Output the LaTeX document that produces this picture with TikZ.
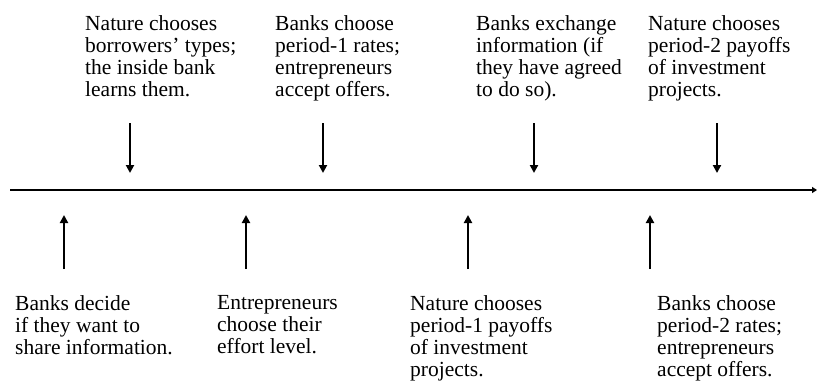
\documentclass[tikz,border=0pt]{standalone}
\usepackage{fontspec}
\setmainfont{Liberation Serif}
\usetikzlibrary{arrows.meta}
\begin{document}
\begin{tikzpicture}[x=1pt,y=-1pt,
  lbl/.style={anchor=north west, inner sep=0pt, align=left,
    font=\fontsize{21.5}{22}\selectfont},
  evt/.style={line width=2pt, -{Triangle[width=8pt,length=8pt]}},
  axis/.style={line width=2.2pt, -{Triangle[width=6pt,length=5pt]}}]
\useasboundingbox (0,0) rectangle (818,391);
% timeline
\coordinate (t0) at (10,190);
\coordinate (t1) at (817,190);
\draw[axis] (t0) -- (t1);
% top events
\node[lbl] (n1) at (85,15) {Nature chooses\\borrowers' types;\\the inside bank\\learns them.};
\node[lbl] (n2) at (275,15) {Banks choose\\period-1 rates;\\entrepreneurs\\accept offers.};
\node[lbl] (n3) at (476,15) {Banks exchange\\information (if\\they have agreed\\to do so).};
\node[lbl] (n4) at (648,15) {Nature chooses\\period-2 payoffs\\of investment\\projects.};
\foreach \i/\x in {1/130,2/323,3/534,4/717}{
  \coordinate (a\i) at (\x,123);
  \coordinate (b\i) at (\x,173);
  \draw[evt] (a\i) -- (b\i);
}
% bottom events
\node[lbl] (m1) at (15,295) {Banks decide\\if they want to\\share information.};
\node[lbl] (m2) at (217,295) {Entrepreneurs\\choose their\\effort level.};
\node[lbl] (m3) at (410,295) {Nature chooses\\period-1 payoffs\\of investment\\projects.};
\node[lbl] (m4) at (657,295) {Banks choose\\period-2 rates;\\entrepreneurs\\accept offers.};
\foreach \i/\x in {1/64,2/246,3/468,4/650}{
  \coordinate (c\i) at (\x,269);
  \coordinate (d\i) at (\x,215);
  \draw[evt] (c\i) -- (d\i);
}
\end{tikzpicture}
\end{document}
